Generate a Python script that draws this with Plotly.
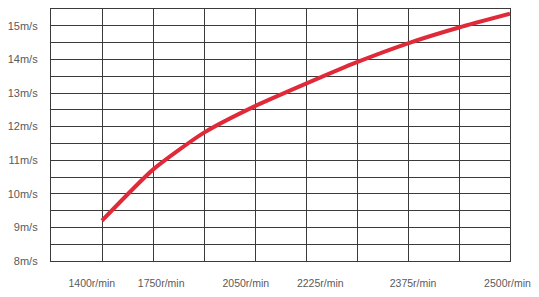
import plotly.graph_objects as go

# Data
grid_x = [1, 2, 3, 4, 5, 6, 7, 8, 9]
speed = [9.2, 10.72, 11.82, 12.61, 13.28, 13.92, 14.48, 14.95, 15.36]
rpm_labels = ["1400r/min", "1750r/min", "2050r/min", "2225r/min", "2375r/min", "2500r/min"]
rpm_label_pos = [0.8, 2.16, 3.82, 5.28, 7.1, 8.95]
speed_ticks = [8, 9, 10, 11, 12, 13, 14, 15]
speed_labels = [f"{v}m/s" for v in speed_ticks]

fig = go.Figure()
fig.add_trace(go.Scatter(
    x=grid_x, y=speed, mode="lines",
    line=dict(color="#e02a3a", width=4, shape="spline", smoothing=0.6),
    hoverinfo="skip", showlegend=False,
))

grid_col = "#3a3a3a"
fig.update_layout(
    width=539, height=297,
    margin=dict(l=49, r=28, t=8, b=32),
    paper_bgcolor="white", plot_bgcolor="white",
    font=dict(family="Liberation Sans, Arial, sans-serif", size=10.5, color="#5a5a5a"),
    xaxis=dict(
        range=[0, 9], tickvals=rpm_label_pos, ticktext=rpm_labels,
        showgrid=False, zeroline=False, ticks="", ticklabelstandoff=12,
        showline=True, linecolor=grid_col, linewidth=1.2, mirror=True,
        minor=dict(dtick=1, tick0=0, showgrid=True, gridcolor=grid_col, gridwidth=1.2, ticks=""),
    ),
    yaxis=dict(
        range=[8, 15.5], tickvals=speed_ticks, ticktext=speed_labels,
        tickfont=dict(size=11),
        showgrid=True, gridcolor=grid_col, gridwidth=1.2, zeroline=False, ticks="",
        ticklabelstandoff=10,
        showline=True, linecolor=grid_col, linewidth=1.2, mirror=True,
        minor=dict(dtick=0.5, tick0=8, showgrid=True, gridcolor=grid_col, gridwidth=1.2, ticks=""),
    ),
)

fig.write_html("out.html")
